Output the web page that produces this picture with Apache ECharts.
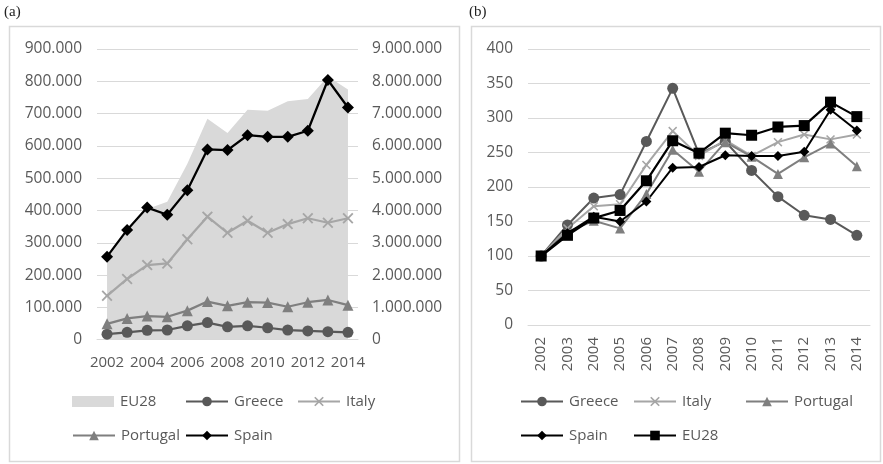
<!DOCTYPE html>
<html>
<head>
<meta charset="utf-8">
<script src="https://cdn.jsdelivr.net/npm/echarts@6/dist/echarts.min.js"></script>
<style>
  html, body { margin: 0; padding: 0; background: #fff; }
  #chartA { position: absolute; left: 0; top: 0; width: 465px; height: 464px; }
  #chartB { position: absolute; left: 465px; top: 0; width: 418px; height: 464px; }
</style>
</head>
<body>
<div id="chartA"></div>
<div id="chartB"></div>
<script>
// Years on the category axis
const years = ['2002','2003','2004','2005','2006','2007','2008','2009','2010','2011','2012','2013','2014'];

// Panel (a): absolute values (countries on the left axis, EU28 on the right axis)
const eu28Abs     = [2580000, 3350000, 4050000, 4270000, 5450000, 6840000, 6400000, 7120000, 7090000, 7380000, 7450000, 8150000, 7750000];
const greeceAbs   = [17000, 23000, 29000, 30000, 43000, 53000, 40000, 43000, 37000, 30000, 27000, 25000, 23000];
const italyAbs    = [136000, 188000, 231000, 236000, 311000, 381000, 331000, 368000, 331000, 358000, 376000, 362000, 376000];
const portugalAbs = [49000, 66000, 73000, 71000, 90000, 118000, 105000, 116000, 115000, 102000, 116000, 123000, 107000];
const spainAbs    = [257000, 340000, 409000, 387000, 463000, 589000, 587000, 633000, 628000, 628000, 647000, 804000, 719000];

// Panel (b): index, 2002 = 100
const greeceIdx   = [100, 145, 184, 189, 266, 343, 248, 266, 224, 186, 159, 153, 130];
const italyIdx    = [100, 140, 172, 175, 232, 281, 245, 268, 245, 265, 276, 269, 276];
const portugalIdx = [100, 135, 151, 140, 190, 254, 222, 265, 244, 219, 243, 263, 230];
const spainIdx    = [100, 133, 157, 150, 179, 228, 229, 246, 245, 245, 251, 312, 282];
const eu28Idx     = [100, 130, 155, 166, 209, 267, 249, 278, 275, 287, 289, 323, 302];

const FONT = '"Open Sans", "Noto Sans", sans-serif';
const TXT = '#595959';
const GRID = '#d9d9d9';
const C_GREECE = '#595959', C_ITALY = '#a6a6a6', C_PORTUGAL = '#7f7f7f', C_SPAIN = '#000000';
const X_MARK = 'path://M0,1.2L1.2,0L5,3.8L8.8,0L10,1.2L6.2,5L10,8.8L8.8,10L5,6.2L1.2,10L0,8.8L3.8,5Z';

function dots(v) { return String(v).replace(/\B(?=(\d{3})+(?!\d))/g, '.'); }

function legendItem(name, left, rowY, icon, h) {
  return {
    data: [icon ? { name: name, icon: icon } : name],
    left: left, top: rowY - 9, padding: 0,
    itemWidth: 42, itemHeight: h || 12, itemGap: 0,
    selectedMode: false,
    textStyle: { color: TXT, fontSize: 15, fontFamily: FONT, padding: [0, 0, 0, 1] }
  };
}

function lineSeries(name, data, color, symbol, size, width, extra) {
  return Object.assign({
    type: 'line', name: name, data: data,
    symbol: symbol, symbolSize: size, showAllSymbol: true,
    lineStyle: { color: color, width: width },
    itemStyle: { color: color, borderWidth: 0 },
    emphasis: { disabled: true }
  }, extra || {});
}

function panelDecor(label, boxX, boxW) {
  return [
    { type: 'text', left: 4, top: 5,
      style: { text: label, font: '15px "Liberation Serif", serif', fill: '#222' } },
    { type: 'rect', shape: { x: boxX, y: 26.5, width: boxW, height: 435 },
      style: { fill: 'none', stroke: GRID, lineWidth: 1.5 } }
  ];
}

// ---- Panel (a)
const chartA = echarts.init(document.getElementById('chartA'));
chartA.setOption({
  animation: false,
  textStyle: { fontFamily: FONT },
  graphic: panelDecor('(a)', 9.5, 450),
  grid: { left: 97, right: 107, top: 49, bottom: 124.3, containLabel: false },
  xAxis: {
    type: 'category', data: years, boundaryGap: true,
    axisTick: { show: false },
    axisLine: { show: true, lineStyle: { color: GRID } },
    axisLabel: { interval: 1, color: TXT, fontSize: 15, fontFamily: FONT, margin: 16 }
  },
  yAxis: [
    { type: 'value', min: 0, max: 900000, interval: 100000,
      axisLabel: { color: TXT, fontSize: 15.5, fontFamily: FONT, margin: 15, formatter: dots },
      splitLine: { lineStyle: { color: GRID, width: 1 } },
      axisLine: { show: false }, axisTick: { show: false } },
    { type: 'value', min: 0, max: 9000000, interval: 1000000, position: 'right',
      axisLabel: { color: TXT, fontSize: 15.5, fontFamily: FONT, margin: 14, formatter: dots },
      splitLine: { show: false }, axisLine: { show: false }, axisTick: { show: false } }
  ],
  legend: [
    legendItem('EU28', 72, 403, 'rect', 11),
    legendItem('Greece', 185, 403),
    legendItem('Italy', 297, 403),
    legendItem('Portugal', 72, 437),
    legendItem('Spain', 185, 437)
  ],
  series: [
    { type: 'line', name: 'EU28', data: eu28Abs, yAxisIndex: 1,
      symbol: 'none', lineStyle: { width: 0, color: '#d9d9d9' },
      itemStyle: { color: '#d9d9d9' },
      areaStyle: { color: '#d9d9d9', opacity: 1 }, emphasis: { disabled: true } },
    lineSeries('Greece', greeceAbs, C_GREECE, 'circle', 11, 2.25),
    lineSeries('Italy', italyAbs, C_ITALY, X_MARK, 11, 2.25),
    lineSeries('Portugal', portugalAbs, C_PORTUGAL, 'triangle', 11, 2.25),
    lineSeries('Spain', spainAbs, C_SPAIN, 'diamond', 12, 2.25)
  ]
});

// ---- Panel (b)
const chartB = echarts.init(document.getElementById('chartB'));
chartB.setOption({
  animation: false,
  textStyle: { fontFamily: FONT },
  graphic: panelDecor('(b)', 6.5, 409),
  grid: { left: 63, right: 13, top: 49, bottom: 139, containLabel: false },
  xAxis: {
    type: 'category', data: years, boundaryGap: true,
    axisTick: { show: false },
    axisLine: { show: true, lineStyle: { color: GRID } },
    axisLabel: { interval: 0, rotate: 90, color: TXT, fontSize: 15, fontFamily: FONT, margin: 12 }
  },
  yAxis: {
    type: 'value', min: 0, max: 400, interval: 50,
    axisLabel: { color: TXT, fontSize: 15.5, fontFamily: FONT, margin: 15 },
    splitLine: { lineStyle: { color: GRID, width: 1 } },
    axisLine: { show: false }, axisTick: { show: false }
  },
  legend: [
    legendItem('Greece', 55, 403),
    legendItem('Italy', 168, 403),
    legendItem('Portugal', 280, 403),
    legendItem('Spain', 55, 437),
    legendItem('EU28', 168, 437)
  ],
  series: [
    lineSeries('Greece', greeceIdx, C_GREECE, 'circle', 11, 2),
    lineSeries('Italy', italyIdx, C_ITALY, X_MARK, 9, 2),
    lineSeries('Portugal', portugalIdx, C_PORTUGAL, 'triangle', 10, 2),
    lineSeries('Spain', spainIdx, C_SPAIN, 'diamond', 10, 2),
    lineSeries('EU28', eu28Idx, C_SPAIN, 'rect', 11, 2.25)
  ]
});
</script>
</body>
</html>
